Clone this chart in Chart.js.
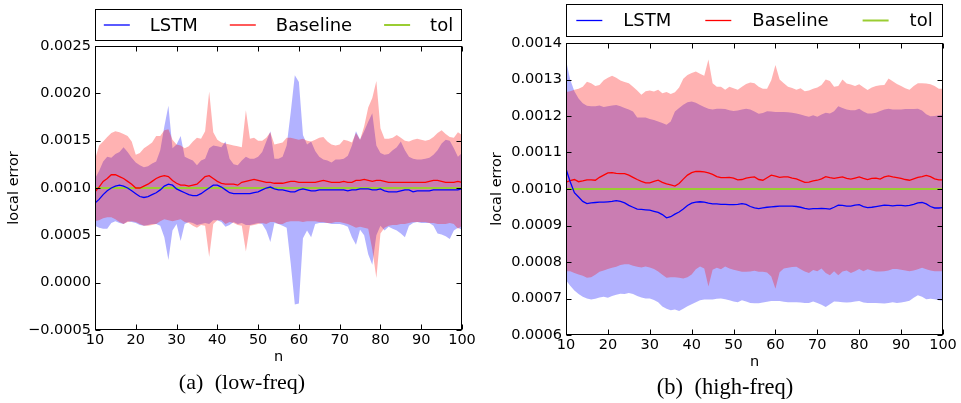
<!DOCTYPE html>
<html>
<head>
<meta charset="utf-8">
<script src="https://cdn.jsdelivr.net/npm/chart.js@4.4.0/dist/chart.umd.min.js"></script>
<style>
  body { margin: 0; background: #fff; width: 961px; height: 403px; position: relative; overflow: hidden; }
  canvas { position: absolute; top: 0; }
  #lowCanvas { left: 0; }
  #highCanvas { left: 480px; }
  .cap { position: absolute; font-family: "Liberation Serif", serif; color: #000; white-space: pre; transform: translateX(-50%); line-height: 1; }
</style>
</head>
<body>
<canvas id="lowCanvas" width="480" height="403"></canvas>
<canvas id="highCanvas" width="481" height="403"></canvas>
<div class="cap" id="capLow" style="left:242px;top:371px;font-size:22px;word-spacing:6px">(a) (low-freq)</div>
<div class="cap" id="capHigh" style="left:725px;top:376px;font-size:22.5px;word-spacing:6px">(b) (high-freq)</div>
<script>
// ---------- DATA ----------
const nValues = [10,11,12,13,14,15,16,17,18,19,20,21,22,23,24,25,26,27,28,29,30,31,32,33,34,35,36,37,38,39,
  40,41,42,43,44,45,46,47,48,49,50,51,52,53,54,55,56,57,58,59,60,61,62,63,64,65,66,67,68,69,
  70,71,72,73,74,75,76,77,78,79,80,81,82,83,84,85,86,87,88,89,90,91,92,93,94,95,96,97,98,99,100];
const xTicks = [10, 20, 30, 40, 50, 60, 70, 80, 90, 100];
const lowYTicks = [-0.0005, 0, 0.0005, 0.001, 0.0015, 0.002, 0.0025];
const highYTicks = [0.0006, 0.0007, 0.0008, 0.0009, 0.001, 0.0011, 0.0012, 0.0013, 0.0014];
const tol = 0.001;

// (a) low-freq
const lowLstm = [0.00084,0.00088,0.00093,0.00097,0.00100,0.00102,0.00103,0.00102,0.00100,0.00097,
  0.00094,0.00091,0.00090,0.00091,0.00093,0.00095,0.00098,0.00102,0.00104,0.00103,
  0.00099,0.00097,0.00095,0.00093,0.00092,0.00092,0.00094,0.00097,0.00100,0.00103,
  0.00103,0.00101,0.00098,0.00095,0.00094,0.00094,0.00094,0.00094,0.00094,0.00095,
  0.00096,0.00098,0.00100,0.00101,0.00099,0.00098,0.00098,0.00097,0.00096,0.00096,
  0.00098,0.00099,0.00098,0.00097,0.00097,0.00098,0.00098,0.00098,0.00098,0.00098,
  0.00098,0.00098,0.00097,0.00098,0.00098,0.00099,0.00099,0.00099,0.00098,0.00098,
  0.00099,0.00097,0.00096,0.00096,0.00096,0.00097,0.00098,0.00098,0.00096,0.00097,
  0.00097,0.00097,0.00097,0.00098,0.00098,0.00098,0.00098,0.00098,0.00098,0.00098,
  0.00099];
const lowBase = [0.00096,0.00101,0.00107,0.00110,0.00114,0.00114,0.00112,0.00110,0.00107,0.00104,
  0.00100,0.00100,0.00102,0.00104,0.00107,0.00110,0.00112,0.00113,0.00112,0.00108,
  0.00105,0.00103,0.00103,0.00102,0.00103,0.00104,0.00108,0.00112,0.00113,0.00110,
  0.00107,0.00105,0.00104,0.00104,0.00104,0.00103,0.00106,0.00107,0.00108,0.00109,
  0.00108,0.00107,0.00106,0.00106,0.00105,0.00105,0.00105,0.00106,0.00107,0.00107,
  0.00106,0.00106,0.00106,0.00106,0.00106,0.00107,0.00108,0.00107,0.00106,0.00106,
  0.00106,0.00107,0.00106,0.00106,0.00108,0.00108,0.00109,0.00108,0.00107,0.00108,
  0.00108,0.00107,0.00106,0.00106,0.00106,0.00106,0.00106,0.00106,0.00106,0.00106,
  0.00106,0.00106,0.00107,0.00108,0.00108,0.00107,0.00106,0.00106,0.00106,0.00107,
  0.00106];
const lowLstmLo = [0.00060,0.00058,0.00057,0.00057,0.00063,0.00065,0.00063,0.00062,0.00065,0.00064,
  0.00063,0.00061,0.00060,0.00061,0.00062,0.00062,0.00060,0.00048,0.00024,0.00055,
  0.00062,0.00044,0.00062,0.00064,0.00063,0.00061,0.00062,0.00063,0.00062,0.00066,
  0.00066,0.00064,0.00059,0.00061,0.00064,0.00062,0.00063,0.00061,0.00061,0.00062,
  0.00063,0.00062,0.00055,0.00043,0.00063,0.00062,0.00060,0.00058,0.00020,-0.00023,
  -0.00022,0.00047,0.00055,0.00048,0.00062,0.00063,0.00063,0.00063,0.00062,0.00062,
  0.00062,0.00061,0.00059,0.00048,0.00040,0.00056,0.00050,0.00030,0.00019,0.00050,
  0.00060,0.00055,0.00059,0.00057,0.00055,0.00052,0.00048,0.00060,0.00063,0.00064,
  0.00063,0.00063,0.00063,0.00060,0.00052,0.00051,0.00049,0.00046,0.00055,0.00058,
  0.00056];
const lowLstmHi = [0.00110,0.00118,0.00128,0.00133,0.00132,0.00136,0.00138,0.00143,0.00138,0.00132,
  0.00127,0.00124,0.00122,0.00123,0.00126,0.00128,0.00140,0.00165,0.00187,0.00142,
  0.00146,0.00155,0.00133,0.00131,0.00129,0.00124,0.00129,0.00131,0.00142,0.00145,
  0.00144,0.00143,0.00149,0.00131,0.00125,0.00124,0.00129,0.00133,0.00131,0.00131,
  0.00133,0.00138,0.00149,0.00160,0.00131,0.00131,0.00133,0.00145,0.00180,0.00219,
  0.00212,0.00156,0.00146,0.00149,0.00139,0.00133,0.00130,0.00129,0.00127,0.00130,
  0.00130,0.00131,0.00134,0.00145,0.00160,0.00151,0.00160,0.00170,0.00179,0.00145,
  0.00137,0.00135,0.00136,0.00140,0.00143,0.00149,0.00140,0.00133,0.00131,0.00130,
  0.00130,0.00131,0.00132,0.00135,0.00140,0.00147,0.00151,0.00150,0.00142,0.00133,
  0.00137];
const lowBaseLo = [0.00065,0.00066,0.00068,0.00069,0.00069,0.00067,0.00064,0.00062,0.00064,0.00065,
  0.00064,0.00062,0.00060,0.00060,0.00061,0.00062,0.00065,0.00067,0.00066,0.00065,
  0.00066,0.00067,0.00064,0.00063,0.00060,0.00058,0.00061,0.00060,0.00027,0.00062,
  0.00066,0.00066,0.00062,0.00064,0.00063,0.00061,0.00060,0.00033,0.00060,0.00061,
  0.00062,0.00063,0.00062,0.00064,0.00064,0.00062,0.00062,0.00064,0.00065,0.00065,
  0.00065,0.00064,0.00065,0.00065,0.00065,0.00064,0.00064,0.00063,0.00063,0.00064,
  0.00064,0.00063,0.00062,0.00060,0.00058,0.00059,0.00058,0.00057,0.00035,0.00005,
  0.00052,0.00058,0.00060,0.00061,0.00061,0.00062,0.00062,0.00063,0.00064,0.00064,
  0.00064,0.00064,0.00063,0.00063,0.00062,0.00062,0.00062,0.00063,0.00062,0.00057,
  0.00060];
const lowBaseHi = [0.00130,0.00145,0.00149,0.00154,0.00158,0.00160,0.00159,0.00157,0.00155,0.00149,
  0.00135,0.00137,0.00142,0.00145,0.00148,0.00155,0.00155,0.00161,0.00162,0.00151,
  0.00146,0.00145,0.00142,0.00144,0.00149,0.00153,0.00152,0.00160,0.00202,0.00159,
  0.00151,0.00148,0.00147,0.00146,0.00145,0.00144,0.00143,0.00182,0.00152,0.00153,
  0.00150,0.00150,0.00153,0.00159,0.00146,0.00147,0.00148,0.00153,0.00153,0.00152,
  0.00151,0.00152,0.00150,0.00149,0.00151,0.00153,0.00154,0.00149,0.00146,0.00145,
  0.00146,0.00151,0.00150,0.00148,0.00158,0.00151,0.00165,0.00185,0.00195,0.00213,
  0.00163,0.00152,0.00152,0.00153,0.00156,0.00153,0.00150,0.00149,0.00151,0.00152,
  0.00151,0.00150,0.00151,0.00154,0.00158,0.00161,0.00157,0.00154,0.00153,0.00159,
  0.00156];

// (b) high-freq
const highLstm = [0.001055,0.001020,0.000990,0.000978,0.000966,0.000960,0.000962,0.000963,0.000964,0.000964,
  0.000965,0.000966,0.000968,0.000966,0.000962,0.000955,0.000950,0.000945,0.000944,0.000943,
  0.000942,0.000939,0.000936,0.000930,0.000921,0.000924,0.000931,0.000937,0.000945,0.000955,
  0.000961,0.000964,0.000965,0.000964,0.000961,0.000959,0.000959,0.000958,0.000958,0.000957,
  0.000957,0.000958,0.000960,0.000958,0.000952,0.000948,0.000946,0.000948,0.000950,0.000951,
  0.000952,0.000953,0.000953,0.000953,0.000953,0.000952,0.000950,0.000947,0.000945,0.000946,
  0.000946,0.000947,0.000946,0.000945,0.000950,0.000956,0.000955,0.000953,0.000953,0.000956,
  0.000957,0.000952,0.000949,0.000950,0.000952,0.000954,0.000956,0.000955,0.000954,0.000955,
  0.000955,0.000954,0.000955,0.000958,0.000962,0.000963,0.000959,0.000952,0.000948,0.000948,
  0.000949];
const highBase = [0.001019,0.001023,0.001026,0.001020,0.001022,0.001025,0.001025,0.001024,0.001032,0.001038,
  0.001044,0.001045,0.001043,0.001042,0.001042,0.001038,0.001032,0.001026,0.001021,0.001017,
  0.001017,0.001021,0.001024,0.001018,0.001014,0.001011,0.001008,0.001015,0.001027,0.001038,
  0.001045,0.001048,0.001048,0.001047,0.001044,0.001040,0.001034,0.001031,0.001031,0.001032,
  0.001030,0.001025,0.001026,0.001030,0.001032,0.001033,0.001026,0.001024,0.001031,0.001038,
  0.001035,0.001032,0.001033,0.001033,0.001030,0.001028,0.001023,0.001018,0.001019,0.001022,
  0.001024,0.001028,0.001034,0.001031,0.001029,0.001031,0.001033,0.001029,0.001027,0.001030,
  0.001033,0.001029,0.001026,0.001029,0.001030,0.001027,0.001033,0.001036,0.001033,0.001031,
  0.001029,0.001026,0.001024,0.001028,0.001032,0.001034,0.001037,0.001034,0.001028,0.001025,
  0.001025];
const highLstmLo = [0.000750,0.000735,0.000722,0.000712,0.000705,0.000700,0.000697,0.000699,0.000703,0.000705,
  0.000702,0.000707,0.000710,0.000713,0.000712,0.000715,0.000712,0.000707,0.000703,0.000700,
  0.000700,0.000696,0.000690,0.000678,0.000672,0.000668,0.000670,0.000666,0.000672,0.000679,
  0.000684,0.000690,0.000695,0.000697,0.000697,0.000697,0.000699,0.000700,0.000698,0.000695,
  0.000692,0.000690,0.000695,0.000692,0.000688,0.000687,0.000687,0.000689,0.000691,0.000693,
  0.000693,0.000693,0.000691,0.000690,0.000690,0.000690,0.000689,0.000688,0.000688,0.000692,
  0.000688,0.000683,0.000677,0.000684,0.000692,0.000691,0.000690,0.000689,0.000690,0.000692,
  0.000693,0.000689,0.000688,0.000688,0.000688,0.000687,0.000686,0.000688,0.000690,0.000688,
  0.000689,0.000691,0.000694,0.000702,0.000709,0.000705,0.000698,0.000699,0.000698,0.000695,
  0.000693];
const highLstmHi = [0.001353,0.001300,0.001268,0.001248,0.001235,0.001228,0.001227,0.001227,0.001229,0.001225,
  0.001227,0.001229,0.001230,0.001227,0.001222,0.001218,0.001212,0.001196,0.001196,0.001196,
  0.001192,0.001189,0.001185,0.001181,0.001176,0.001185,0.001212,0.001222,0.001231,0.001238,
  0.001240,0.001236,0.001230,0.001225,0.001220,0.001218,0.001220,0.001220,0.001219,0.001216,
  0.001214,0.001215,0.001218,0.001220,0.001218,0.001212,0.001206,0.001208,0.001213,0.001212,
  0.001211,0.001211,0.001211,0.001210,0.001209,0.001207,0.001204,0.001201,0.001198,0.001202,
  0.001198,0.001204,0.001209,0.001207,0.001213,0.001227,0.001222,0.001218,0.001216,0.001216,
  0.001220,0.001212,0.001207,0.001207,0.001209,0.001214,0.001218,0.001220,0.001218,0.001218,
  0.001218,0.001219,0.001219,0.001219,0.001220,0.001215,0.001205,0.001199,0.001200,0.001202,
  0.001204];
const highBaseLo = [0.000775,0.000775,0.000770,0.000766,0.000762,0.000757,0.000758,0.000765,0.000773,0.000777,
  0.000781,0.000784,0.000787,0.000792,0.000794,0.000794,0.000790,0.000787,0.000785,0.000788,
  0.000785,0.000781,0.000774,0.000765,0.000757,0.000758,0.000758,0.000757,0.000755,0.000758,
  0.000766,0.000780,0.000788,0.000782,0.000733,0.000779,0.000784,0.000780,0.000788,0.000782,
  0.000779,0.000776,0.000773,0.000773,0.000774,0.000776,0.000773,0.000773,0.000771,0.000760,
  0.000727,0.000772,0.000782,0.000784,0.000786,0.000787,0.000780,0.000774,0.000770,0.000778,
  0.000775,0.000782,0.000770,0.000764,0.000775,0.000764,0.000774,0.000777,0.000770,0.000775,
  0.000781,0.000775,0.000780,0.000777,0.000774,0.000774,0.000775,0.000777,0.000781,0.000781,
  0.000779,0.000777,0.000775,0.000777,0.000780,0.000784,0.000780,0.000777,0.000775,0.000775,
  0.000775];
const highBaseHi = [0.001266,0.001268,0.001272,0.001275,0.001280,0.001294,0.001290,0.001282,0.001285,0.001298,
  0.001305,0.001310,0.001305,0.001297,0.001293,0.001290,0.001280,0.001270,0.001258,0.001268,
  0.001270,0.001267,0.001272,0.001262,0.001266,0.001260,0.001265,0.001278,0.001302,0.001312,
  0.001318,0.001322,0.001316,0.001310,0.001355,0.001290,0.001280,0.001280,0.001272,0.001280,
  0.001276,0.001272,0.001280,0.001288,0.001292,0.001290,0.001280,0.001275,0.001275,0.001298,
  0.001340,0.001300,0.001290,0.001280,0.001277,0.001272,0.001276,0.001268,0.001270,0.001275,
  0.001278,0.001285,0.001300,0.001296,0.001280,0.001282,0.001300,0.001289,0.001286,0.001282,
  0.001287,0.001279,0.001271,0.001278,0.001282,0.001284,0.001285,0.001303,0.001295,0.001288,
  0.001282,0.001276,0.001272,0.001282,0.001290,0.001290,0.001289,0.001287,0.001282,0.001275,
  0.001275];

// ---------- Helpers ----------
const FONT = '"DejaVu Sans", sans-serif';
const fmtTick = (v) => v.toFixed(4).replace('-', '\u2212');
const pts = (arr) => arr.map((y, i) => ({ x: nValues[i], y }));

// frame, inward tick marks and the boxed legend (matplotlib classic look)
const framePlugin = {
  id: 'frame',
  afterDraw(chart, args, o) {
    const { ctx, chartArea: a, scales: { x, y } } = chart;
    const L = Math.round(a.left) + .5, R = Math.round(a.right) - .5;
    const T = Math.round(a.top) + .5, B = Math.round(a.bottom) - .5;
    ctx.save();
    ctx.strokeStyle = '#000';
    ctx.lineWidth = 1;
    ctx.strokeRect(L, T, R - L, B - T);
    ctx.beginPath();
    x.ticks.forEach(t => {
      const px = Math.round(x.getPixelForValue(t.value)) + .5;
      ctx.moveTo(px, T); ctx.lineTo(px, T + 5);
      ctx.moveTo(px, B); ctx.lineTo(px, B - 5);
    });
    y.ticks.forEach(t => {
      const py = Math.round(y.getPixelForValue(t.value)) + .5;
      ctx.moveTo(L, py); ctx.lineTo(L + 5, py);
      ctx.moveTo(R, py); ctx.lineTo(R - 5, py);
    });
    ctx.stroke();

    // legend box
    ctx.strokeRect(L, o.top + .5, R - L, o.bottom - o.top);
    ctx.font = o.size + 'px ' + FONT;
    ctx.textBaseline = 'middle';
    const items = chart.data.datasets.slice(0, 3);
    const widths = items.map(d => o.line + o.gap + ctx.measureText(d.label).width);
    const total = widths.reduce((s, w) => s + w, 0) + o.space * (items.length - 1);
    let lx = a.left + (a.width - total) / 2;
    const ly = (o.top + o.bottom) / 2 + .5;
    items.forEach((d, i) => {
      ctx.strokeStyle = d.borderColor;
      ctx.lineWidth = d.borderWidth;
      ctx.beginPath(); ctx.moveTo(lx, ly); ctx.lineTo(lx + o.line, ly); ctx.stroke();
      ctx.fillStyle = '#000';
      ctx.fillText(d.label, lx + o.line + o.gap, ly + 1);
      lx += widths[i] + o.space;
    });
    ctx.restore();
  }
};

function makeChart(id, s, g) {
  return new Chart(document.getElementById(id), {
    type: 'line',
    data: {
      datasets: [
        { label: 'LSTM', data: pts(s.lstm), borderColor: '#0000ff', borderWidth: 1.3, fill: false },
        { label: 'Baseline', data: pts(s.base), borderColor: '#ff0000', borderWidth: 1.3, fill: false },
        { label: 'tol', data: [{ x: nValues[0], y: tol }, { x: nValues[nValues.length - 1], y: tol }], borderColor: '#9acd32', borderWidth: 2, fill: false },
        { label: 'Baseline lo', data: pts(s.baseLo), borderWidth: 0, borderColor: 'rgba(0,0,0,0)', fill: false },
        { label: 'Baseline hi', data: pts(s.baseHi), borderWidth: 0, borderColor: 'rgba(0,0,0,0)', fill: '-1', backgroundColor: 'rgba(255,0,0,0.3)' },
        { label: 'LSTM lo', data: pts(s.lstmLo), borderWidth: 0, borderColor: 'rgba(0,0,0,0)', fill: false },
        { label: 'LSTM hi', data: pts(s.lstmHi), borderWidth: 0, borderColor: 'rgba(0,0,0,0)', fill: '-1', backgroundColor: 'rgba(0,0,255,0.3)' }
      ]
    },
    options: {
      responsive: false,
      animation: false,
      layout: { padding: { top: g.top, right: g.right, bottom: g.bottom, left: 0 } },
      elements: { point: { radius: 0 }, line: { tension: 0 } },
      plugins: {
        legend: { display: false },
        tooltip: { enabled: false },
        frame: g.legend
      },
      scales: {
        x: {
          type: 'linear', min: 10, max: 100,
          afterBuildTicks: (sc) => { sc.ticks = xTicks.map(v => ({ value: v })); },
          afterFit: (sc) => { sc.height = g.xh; },
          grid: { display: false, drawTicks: false }, border: { display: false },
          ticks: { color: '#000', font: { family: FONT, size: 14.5 }, padding: 2, maxRotation: 0, autoSkip: false },
          title: { display: true, text: 'n', color: '#000', font: { family: FONT, size: 14.5 }, padding: { top: 0, bottom: 0 } }
        },
        y: {
          min: s.yTicks[0], max: s.yTicks[s.yTicks.length - 1],
          afterBuildTicks: (sc) => { sc.ticks = s.yTicks.map(v => ({ value: v })); },
          afterFit: (sc) => { sc.width = g.yw; },
          grid: { display: false, drawTicks: false }, border: { display: false },
          ticks: { color: '#000', font: { family: FONT, size: 14.5 }, padding: 4, callback: fmtTick },
          title: { display: true, text: 'local error', color: '#000', font: { family: FONT, size: 14.5 }, padding: { top: g.ytp, bottom: 0 } }
        }
      }
    },
    plugins: [framePlugin]
  });
}

makeChart('lowCanvas',
  { lstm: lowLstm, base: lowBase, lstmLo: lowLstmLo, lstmHi: lowLstmHi, baseLo: lowBaseLo, baseHi: lowBaseHi, yTicks: lowYTicks },
  { top: 46, right: 18, bottom: 37, yw: 95, xh: 36, ytp: 6,
    legend: { top: 9, bottom: 40, size: 18, line: 26, gap: 20, space: 32 } });

makeChart('highCanvas',
  { lstm: highLstm, base: highBase, lstmLo: highLstmLo, lstmHi: highLstmHi, baseLo: highBaseLo, baseHi: highBaseHi, yTicks: highYTicks },
  { top: 43, right: 18, bottom: 32, yw: 86, xh: 36, ytp: 9,
    legend: { top: 4, bottom: 36, size: 18, line: 26, gap: 21, space: 34 } });
</script>
</body>
</html>
